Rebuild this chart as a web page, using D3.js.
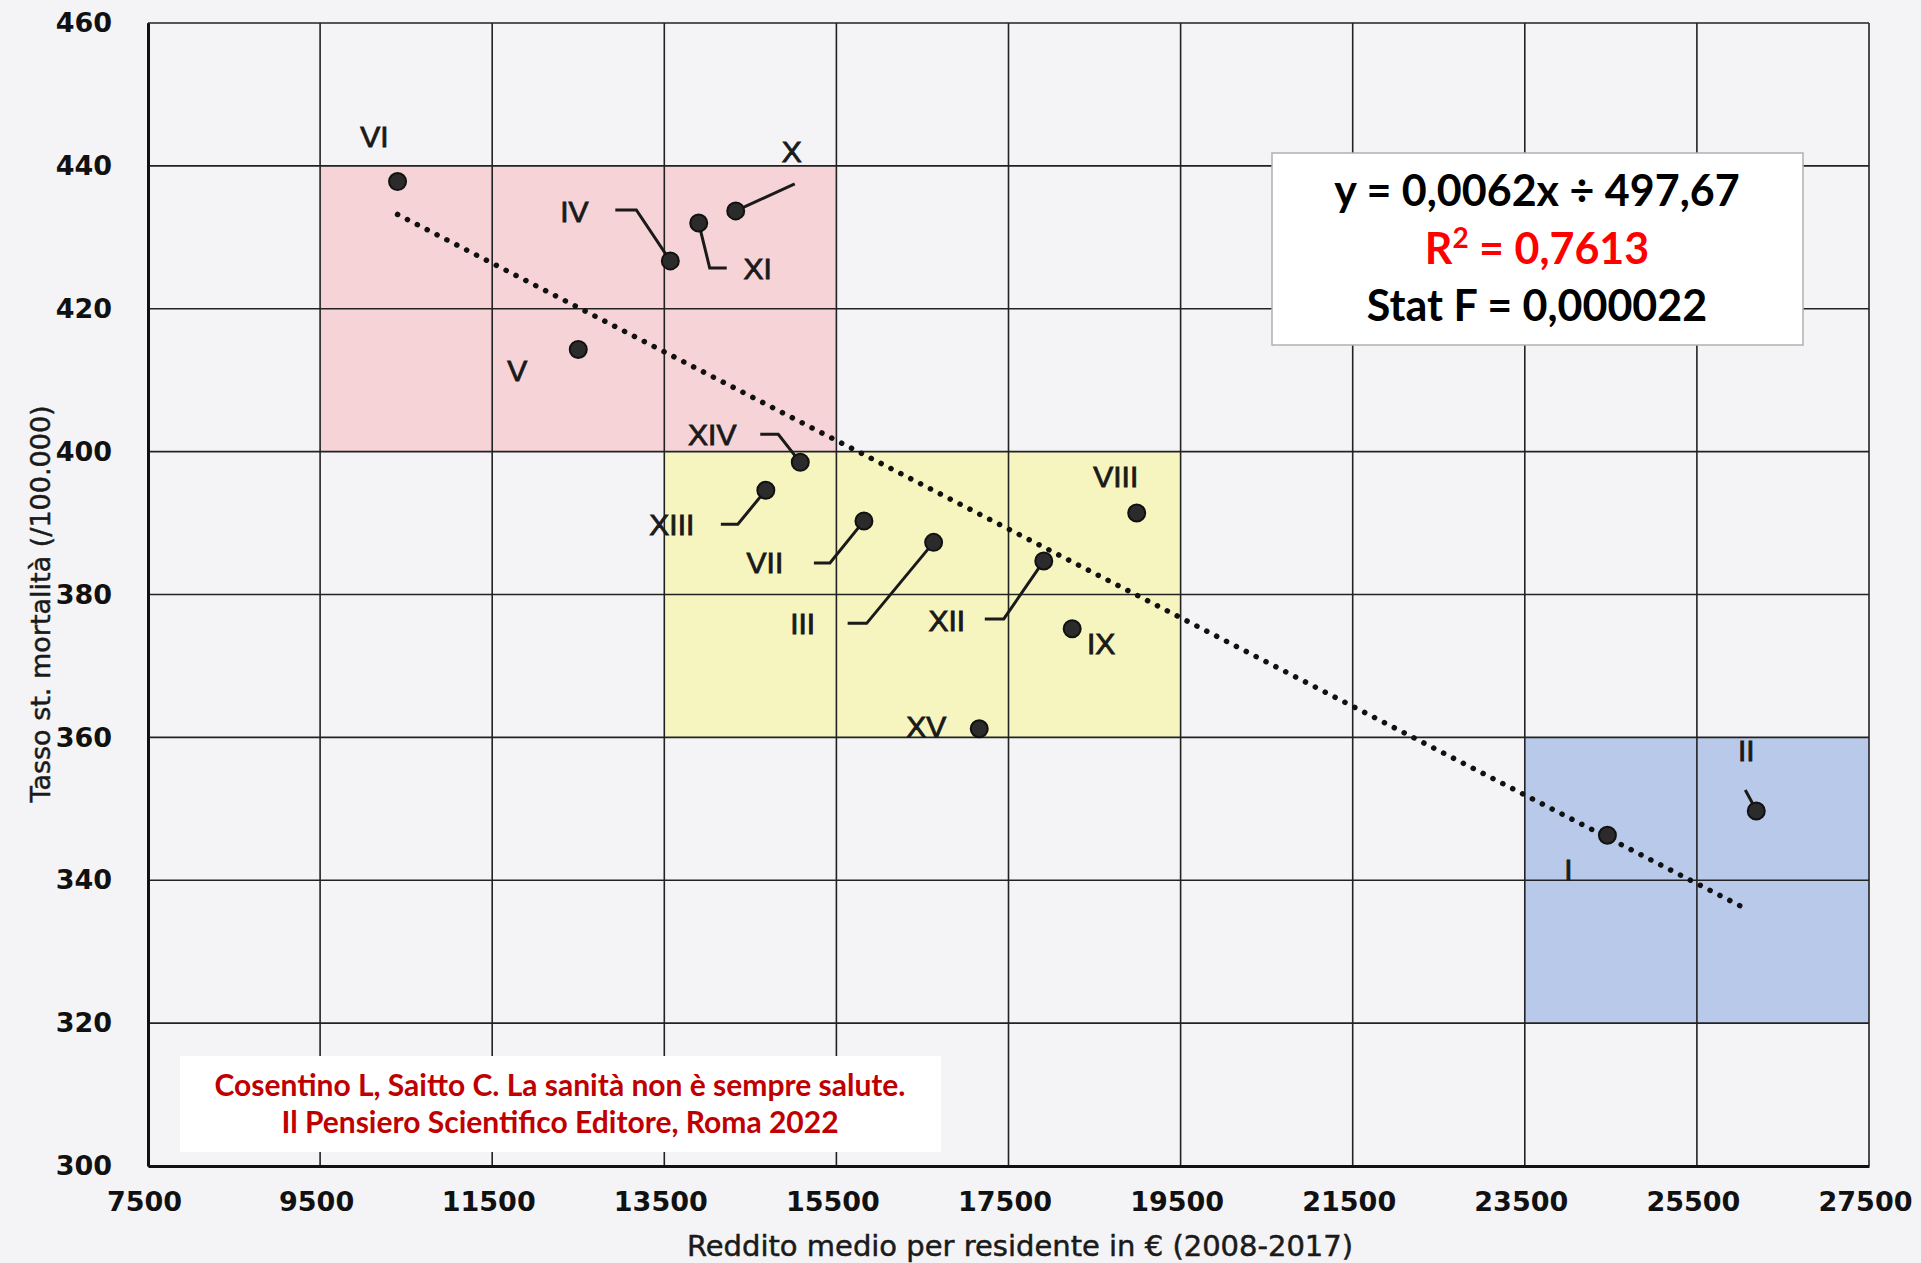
<!DOCTYPE html>
<html>
<head>
<meta charset="utf-8">
<script src="https://cdn.jsdelivr.net/npm/d3@7"></script>
<style>
  body { margin: 0; background: #f4f4f6; }
  svg { display: block; }
</style>
</head>
<body>
<div id="chart"></div>
<script>
const width = 1921;
const height = 1263;
const margin = { top: 23, right: 52, bottom: 97, left: 148 };

// Regioni (municipi) e valori
const regions = ["I", "II", "III", "IV", "V", "VI", "VII", "VIII", "IX", "X", "XI", "XII", "XIII", "XIV", "XV"];
const income = [24460, 26190, 16630, 13570, 12500, 10400, 15820, 18990, 18240, 14330, 13900, 17910, 14680, 15080, 17160];
const mortality = [346.3, 349.7, 387.3, 426.7, 414.3, 437.8, 390.3, 391.4, 375.2, 433.7, 432.0, 384.7, 394.6, 398.5, 361.2];

// linea di tendenza (estremi)
const trendX = [10400, 26070];
const trendY = [433.2, 336.0];

// aree colorate
const zoneX0 = [9500, 13500, 23500];
const zoneX1 = [15500, 19500, 27500];
const zoneY0 = [400, 360, 320];
const zoneY1 = [440, 400, 360];
const zoneColors = ["#f5d3d6", "#f7f5bf", "#b9c9e9"];

const xTicks = [7500, 9500, 11500, 13500, 15500, 17500, 19500, 21500, 23500, 25500, 27500];
const yTicks = [300, 320, 340, 360, 380, 400, 420, 440, 460];

const statLines = ["y = 0,0062x ÷ 497,67", "0,7613", "Stat F = 0,000022"];
const citation = ["Cosentino L, Saitto C. La sanità non è sempre salute.", "Il Pensiero Scientifico Editore, Roma 2022"];

// posizione delle etichette rispetto al punto: [dx, dy] etichetta, poi gomiti della linea guida
const labelLayout = {
    "I":    { label: [-39, 34] },
    "II":   { label: [-10, -60], leader: [[-5, -10], [-11, -21]] },
    "III":  { label: [-131, 81], leader: [[-67, 81], [-86, 81]] },
    "IV":   { label: [-96, -49], leader: [[-34, -51], [-55, -51]] },
    "V":    { label: [-61, 21] },
    "VI":   { label: [-23, -45] },
    "VII":  { label: [-99, 42], leader: [[-34, 42], [-50, 42]] },
    "VIII": { label: [-21, -37] },
    "IX":   { label: [29, 15] },
    "X":    { label: [56, -59], leader: [[59, -27]] },
    "XI":   { label: [59, 45], leader: [[11, 45], [28, 45]] },
    "XII":  { label: [-97, 60], leader: [[-40, 58], [-59, 58]] },
    "XIII": { label: [-94, 34], leader: [[-28, 34], [-45, 34]] },
    "XIV":  { label: [-88, -28], leader: [[-22, -28], [-40, -28]] },
    "XV":   { label: [-53, -2] }
};

const points = regions.map((r, i) => ({ name: r, x: income[i], y: mortality[i] }));

const svg = d3.select("#chart").append("svg")
    .attr("width", width)
    .attr("height", height);

svg.append("rect")
    .attr("width", width)
    .attr("height", height)
    .attr("fill", "#f4f4f6");

const xScale = d3.scaleLinear().domain([7500, 27500]).range([margin.left, width - margin.right]);
const yScale = d3.scaleLinear().domain([300, 460]).range([height - margin.bottom, margin.top]);

// aree colorate
svg.append("g").selectAll("rect")
    .data(zoneX0)
    .join("rect")
    .attr("x", (d, i) => xScale(d))
    .attr("y", (d, i) => yScale(zoneY1[i]))
    .attr("width", (d, i) => xScale(zoneX1[i]) - xScale(d))
    .attr("height", (d, i) => yScale(zoneY0[i]) - yScale(zoneY1[i]))
    .attr("fill", (d, i) => zoneColors[i]);

// griglia
svg.append("g")
    .selectAll("line")
    .data(xTicks)
    .join("line")
    .attr("x1", d => xScale(d))
    .attr("x2", d => xScale(d))
    .attr("y1", yScale(460))
    .attr("y2", yScale(300))
    .attr("stroke", "#222")
    .attr("stroke-width", 1.6);

svg.append("g")
    .selectAll("line")
    .data(yTicks)
    .join("line")
    .attr("x1", xScale(7500))
    .attr("x2", xScale(27500))
    .attr("y1", d => yScale(d))
    .attr("y2", d => yScale(d))
    .attr("stroke", "#222")
    .attr("stroke-width", 1.6);

// assi
const xAxis = svg.append("g")
    .attr("transform", `translate(0,${height - margin.bottom})`)
    .call(d3.axisBottom(xScale).tickValues(xTicks).tickSize(0).tickPadding(26).tickFormat(d3.format("d")));

const yAxis = svg.append("g")
    .attr("transform", `translate(${margin.left},0)`)
    .call(d3.axisLeft(yScale).tickValues(yTicks).tickSize(0).tickPadding(36).tickFormat(d3.format("d")));

[xAxis, yAxis].forEach(g => {
    g.select(".domain").attr("stroke", "#111").attr("stroke-width", 3);
    g.selectAll("text")
        .attr("fill", "#111")
        .style("font-family", "'DejaVu Sans', sans-serif")
        .style("font-weight", "bold")
        .style("font-size", "27px");
});
xAxis.selectAll(".tick text").attr("dx", -4);

// titoli assi
svg.append("text")
    .attr("x", 1020)
    .attr("y", 1256)
    .attr("text-anchor", "middle")
    .attr("fill", "#1a1a1a")
    .attr("stroke", "#1a1a1a")
    .attr("stroke-width", 0.5)
    .style("font-family", "'DejaVu Sans', sans-serif")
    .style("font-size", "29px")
    .text("Reddito medio per residente in € (2008-2017)");

svg.append("text")
    .attr("transform", "translate(50,604) rotate(-90)")
    .attr("text-anchor", "middle")
    .attr("fill", "#1a1a1a")
    .attr("stroke", "#1a1a1a")
    .attr("stroke-width", 0.5)
    .style("font-family", "'DejaVu Sans', sans-serif")
    .style("font-size", "27px")
    .text("Tasso st. mortalità (/100.000)");

// linea di tendenza
svg.append("line")
    .attr("x1", xScale(trendX[0]))
    .attr("y1", yScale(trendY[0]))
    .attr("x2", xScale(trendX[1]))
    .attr("y2", yScale(trendY[1]))
    .attr("stroke", "#111")
    .attr("stroke-width", 5.5)
    .attr("stroke-linecap", "round")
    .attr("stroke-dasharray", "0.1 11");

// linee guida ed etichette
const pg = svg.append("g");
points.forEach(p => {
    const lay = labelLayout[p.name];
    const px = xScale(p.x);
    const py = yScale(p.y);
    if (lay.leader) {
        const pts = [[px, py]].concat(lay.leader.map(o => [px + o[0], py + o[1]]));
        pg.append("path")
            .attr("d", d3.line()(pts))
            .attr("fill", "none")
            .attr("stroke", "#1a1a1a")
            .attr("stroke-width", 3);
    }
    pg.append("text")
        .attr("x", px + lay.label[0])
        .attr("y", py + lay.label[1])
        .attr("text-anchor", "middle")
        .attr("dominant-baseline", "central")
        .attr("fill", "#1a1a1a")
        .attr("stroke", "#1a1a1a")
        .attr("stroke-width", 0.9)
        .style("font-family", "'Liberation Sans', Arial, sans-serif")
        .style("font-size", "30px")
        .text(p.name);
});

// punti
svg.append("g")
    .selectAll("circle")
    .data(points)
    .join("circle")
    .attr("cx", d => xScale(d.x))
    .attr("cy", d => yScale(d.y))
    .attr("r", 8.5)
    .attr("fill", "#2b2b2b")
    .attr("stroke", "#111")
    .attr("stroke-width", 2);

// riquadro statistiche
svg.append("rect")
    .attr("x", 1272)
    .attr("y", 153)
    .attr("width", 531)
    .attr("height", 192)
    .attr("fill", "#ffffff")
    .attr("stroke", "#b0b0b0")
    .attr("stroke-width", 1.5);

const statFont = "Lato, 'Open Sans', sans-serif";
svg.append("text")
    .attr("x", 1537)
    .attr("y", 206)
    .attr("text-anchor", "middle")
    .attr("fill", "#000")
    .style("font-family", statFont)
    .style("font-weight", "bold")
    .style("font-size", "43px")
    .text(statLines[0]);

const r2 = svg.append("text")
    .attr("x", 1537)
    .attr("y", 264)
    .attr("text-anchor", "middle")
    .attr("fill", "#ff0000")
    .style("font-family", statFont)
    .style("font-weight", "bold")
    .style("font-size", "43px");
r2.append("tspan").text("R");
r2.append("tspan").attr("dy", -16).style("font-size", "28px").text("2");
r2.append("tspan").attr("dy", 16).text(" = " + statLines[1]);

svg.append("text")
    .attr("x", 1537)
    .attr("y", 321)
    .attr("text-anchor", "middle")
    .attr("fill", "#000")
    .style("font-family", statFont)
    .style("font-weight", "bold")
    .style("font-size", "43px")
    .text(statLines[2]);

// riquadro citazione
svg.append("rect")
    .attr("x", 180)
    .attr("y", 1056)
    .attr("width", 761)
    .attr("height", 96)
    .attr("fill", "#ffffff");

svg.append("g")
    .selectAll("text")
    .data(citation)
    .join("text")
    .attr("x", 560)
    .attr("y", (d, i) => 1096 + i * 37)
    .attr("text-anchor", "middle")
    .attr("fill", "#c00000")
    .style("font-family", statFont)
    .style("font-weight", "bold")
    .style("font-size", "30px")
    .text(d => d);
</script>
</body>
</html>
